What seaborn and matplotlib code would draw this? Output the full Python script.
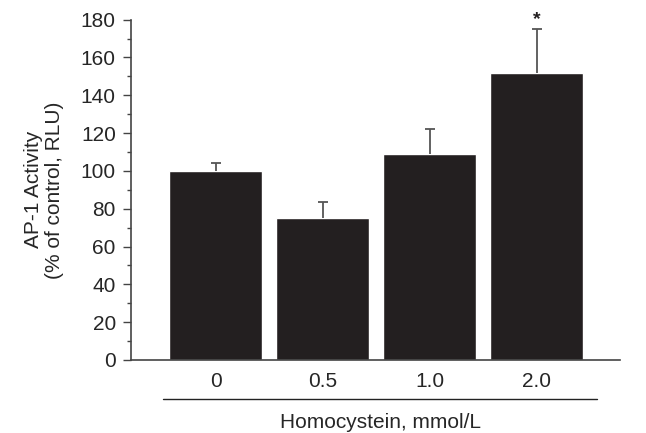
import matplotlib
matplotlib.use('Agg')
import matplotlib.pyplot as plt
import seaborn as sns
import pandas as pd
from matplotlib.ticker import MultipleLocator

# Values
doses = ['0', '0.5', '1.0', '2.0']
activity = [100, 75, 109, 152]
sem_upper = [4, 8.5, 13, 23]
significant = [False, False, False, True]

sns.set_style('white')
plt.rcParams['font.family'] = ['Liberation Sans', 'DejaVu Sans']

df = pd.DataFrame({'dose': doses, 'activity': activity})

fig = plt.figure(figsize=(6.46, 4.33), dpi=100)
ax = fig.add_axes([0.203, 0.1686, 0.757, 0.786])

bar_color = '#231f20'
sns.barplot(data=df, x='dose', y='activity', color=bar_color, width=0.87,
            saturation=1, errorbar=None, ax=ax)

# Upper-only error bars
pos = list(range(len(doses)))
eb = ax.errorbar(pos, activity, yerr=[[0] * len(doses), sem_upper], fmt='none',
                 ecolor='#555555', elinewidth=1.3, capsize=3.5, capthick=1.3)
eb[1][0].set_visible(False)  # hide the lower caps

for i, sig in enumerate(significant):
    if sig:
        ax.text(i, activity[i] + sem_upper[i] + 0.5, '*', ha='center',
                va='bottom', fontsize=14, fontweight='bold', color='#231f20')

ax.set_ylim(0, 180)
ax.set_xlim(-0.79, 3.78)
ax.yaxis.set_major_locator(MultipleLocator(20))
ax.yaxis.set_minor_locator(MultipleLocator(10))
ax.tick_params(axis='y', which='major', direction='out', length=6, width=1,
               color='#444444', labelsize=15, pad=5, left=True)
ax.tick_params(axis='y', which='minor', direction='out', length=3, width=1,
               color='#444444', left=True)
ax.tick_params(axis='x', length=0, labelsize=15, pad=9)

sns.despine(ax=ax)
for s in ['left', 'bottom']:
    ax.spines[s].set_color('#444444')
    ax.spines[s].set_linewidth(1.2)

ax.set_xlabel('')
ax.set_ylabel('AP-1 Activity\n(% of control, RLU)', fontsize=15,
              labelpad=12, linespacing=1.15)

# Line under the tick labels and the axis title
line_y = 1 - 399 / 433
fig.add_artist(plt.Line2D([163 / 646, 597 / 646], [line_y, line_y],
                          color='#222222', linewidth=1))
fig.text(380 / 646, 1 - 422 / 433, 'Homocystein, mmol/L', ha='center',
         va='center', fontsize=15)

fig.savefig('out.png', dpi=100)
